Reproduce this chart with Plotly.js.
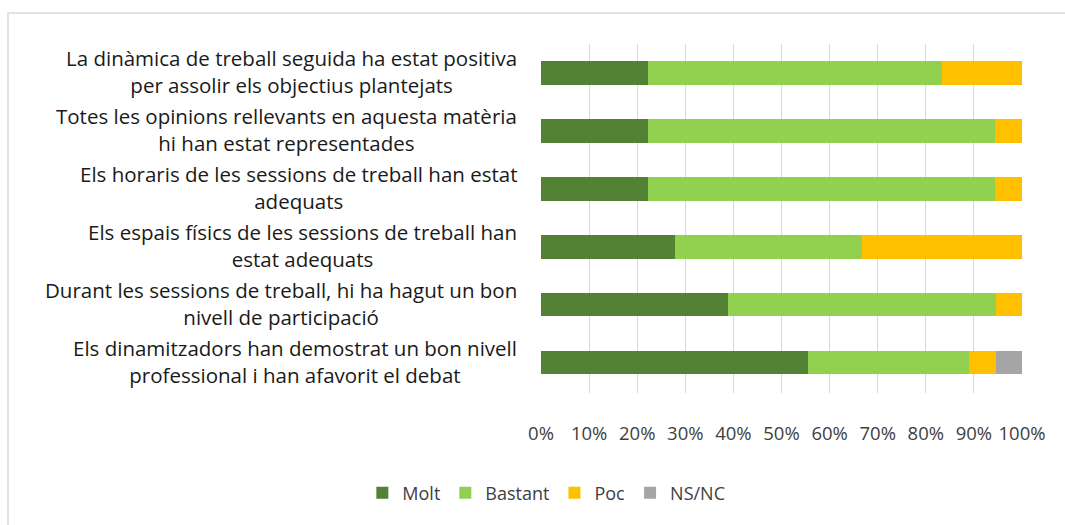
<!DOCTYPE html>
<html>
<head>
<meta charset="utf-8">
<script src="https://cdn.plot.ly/plotly-3.0.1.min.js"></script>
<style>
  html, body { margin: 0; padding: 0; overflow: hidden; background: #fff; }
  #frame { position: absolute; left: 7px; top: 12px; width: 1200px; height: 700px;
           border: 2px solid #e3e3e3; }
  #chart { position: absolute; left: 0; top: 0; width: 1065px; height: 525px; }
</style>
</head>
<body>
<div id="frame"></div>
<div id="chart"></div>
<script>
// Survey statements (top to bottom)
const statements = [
    "La dinàmica de treball seguida ha estat positiva<br>per assolir els objectius plantejats",
    "Totes les opinions rellevants en aquesta matèria<br>hi han estat representades",
    "Els horaris de les sessions de treball han estat<br>adequats",
    "Els espais físics de les sessions de treball han<br>estat adequats",
    "Durant les sessions de treball, hi ha hagut un bon<br>nivell de participació",
    "Els dinamitzadors han demostrat un bon nivell<br>professional i han afavorit el debat"
];

// Share of answers per statement (%)
const molt    = [22.2, 22.2, 22.2, 27.8, 38.9, 55.6];
const bastant = [61.1, 72.2, 72.2, 38.9, 55.6, 33.3];
const poc     = [16.7, 5.6, 5.6, 33.3, 5.6, 5.6];
const nsnc    = [0, 0, 0, 0, 0, 5.5];

const seriesNames  = ["Molt", "Bastant", "Poc", "NS/NC"];
const seriesColors = ["#548235", "#92d050", "#ffc000", "#a5a5a5"];

const textFont = "'Open Sans', sans-serif";

const data = [molt, bastant, poc, nsnc].map((vals, i) => ({
    type: "bar",
    orientation: "h",
    x: vals,
    y: statements,
    name: seriesNames[i],
    marker: {color: seriesColors[i], line: {width: 0}},
    hoverinfo: "x+name"
}));

// Category labels drawn as annotations so the second line is centred
const labelNotes = statements.map(s => ({
    xref: "paper",
    yref: "y",
    x: 0,
    y: s,
    xanchor: "right",
    yanchor: "middle",
    xshift: -22,
    yshift: 1,
    align: "center",
    showarrow: false,
    text: s,
    font: {family: textFont, size: 20.5, color: "#1a1a1a"}
}));

const layout = {
    width: 1065,
    height: 525,
    margin: {l: 541, r: 43, t: 44, b: 132},
    paper_bgcolor: "rgba(0,0,0,0)",
    plot_bgcolor: "rgba(0,0,0,0)",
    barmode: "stack",
    bargap: 0.59,
    showlegend: true,
    legend: {
        orientation: "h",
        xref: "container",
        yref: "container",
        x: 0.513,
        xanchor: "center",
        y: 0.061,
        yanchor: "middle",
        font: {family: textFont, size: 18, color: "#404040"},
        traceorder: "normal"
    },
    xaxis: {
        range: [0, 100],
        dtick: 10,
        ticksuffix: "%",
        showgrid: true,
        gridcolor: "#d9d9d9",
        gridwidth: 1,
        zeroline: false,
        showline: false,
        ticks: "",
        ticklabelstandoff: 27,
        tickfont: {family: textFont, size: 18.5, color: "#404040"},
        fixedrange: true
    },
    yaxis: {
        autorange: "reversed",
        showticklabels: false,
        showgrid: false,
        zeroline: false,
        showline: false,
        ticks: "",
        fixedrange: true
    },
    annotations: labelNotes
};

Plotly.newPlot("chart", data, layout, {displayModeBar: false, staticPlot: true});
</script>
</body>
</html>
